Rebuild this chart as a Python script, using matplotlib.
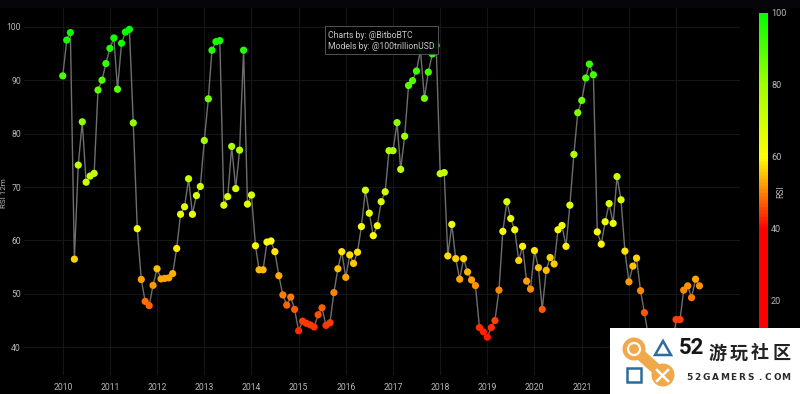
import numpy as np
import pandas as pd
import matplotlib
matplotlib.use("Agg")
import matplotlib.pyplot as plt
from matplotlib.colors import LinearSegmentedColormap, Normalize
from matplotlib.patches import Rectangle, Circle, Polygon

W, H = 800, 394
plt.rcParams['font.family'] = ['Roboto', 'Noto Sans CJK SC', 'DejaVu Sans']

rsi_2010 = [90.8, 97.5, 98.9, 56.5, 74.1, 82.2, 70.9, 72.05, 72.55, 88.15, 90.0, 93.1]
rsi_2011 = [95.95, 97.9, 88.3, 96.9, 99.0, 99.5, 82.0, 62.2, 52.7, 48.6, 47.8, 51.6]
rsi_2012 = [54.7, 52.8, 52.9, 53.0, 53.8, 58.5, 64.9, 66.3, 71.55, 64.9, 68.4, 70.1]
rsi_2013 = [78.7, 86.5, 95.6, 97.2, 97.4, 66.6, 68.2, 77.6, 69.7, 76.9, 95.6, 66.8]
rsi_2014 = [68.5, 59.0, 54.5, 54.5, 59.7, 59.9, 57.9, 53.4, 49.8, 47.9, 49.4, 47.1]
rsi_2015 = [43.1, 44.9, 44.5, 44.2, 43.8, 46.1, 47.4, 44.1, 44.6, 50.25, 54.7, 57.9]
rsi_2016 = [53.1, 57.3, 55.7, 57.8, 62.6, 69.4, 65.1, 60.9, 62.75, 67.25, 69.1, 76.8]
rsi_2017 = [76.8, 82.05, 73.3, 79.5, 89.0, 89.9, 91.7, 95.6, 86.6, 91.5, 94.9, 96.5]
rsi_2018 = [72.5, 72.7, 57.1, 63.0, 56.6, 52.75, 56.6, 54.1, 52.6, 51.55, 43.7, 42.9]
rsi_2019 = [41.9, 43.7, 45.0, 50.7, 61.7, 67.25, 64.1, 62.0, 56.25, 58.9, 52.4, 50.9]
rsi_2020 = [58.1, 54.9, 47.1, 54.4, 56.8, 55.6, 62.0, 62.8, 58.9, 66.6, 76.1, 83.9]
rsi_2021 = [86.2, 90.4, 93.0, 91.0, 61.6, 59.3, 63.5, 66.9, 63.2, 71.95, 67.6, 58.0]
rsi_2022 = [52.25, 55.2, 56.7, 50.6, 46.5, 42.0, 39.0, 38.0, 38.5, 38.0, 37.5, 39.0]
rsi_2023 = [45.2, 45.2, 50.7, 51.5, 49.3, 52.75, 51.5]

rsi = np.array(rsi_2010 + rsi_2011 + rsi_2012 + rsi_2013 + rsi_2014 + rsi_2015 + rsi_2016
               + rsi_2017 + rsi_2018 + rsi_2019 + rsi_2020 + rsi_2021 + rsi_2022 + rsi_2023)
dates = pd.date_range("2010-01-01", periods=len(rsi), freq="MS")
years = list(range(2010, 2024))
y_ticks = [40, 50, 60, 70, 80, 90, 100]
cbar_ticks = [20, 40, 60, 80, 100]

cmap = LinearSegmentedColormap.from_list(
    "rsi", [(0, "#ff0000"), (0.40, "#ff0000"), (0.60, "#ffff00"), (0.80, "#a0ff00"), (1.0, "#00ff00")])
norm = Normalize(0, 100)

BG = "#000000"
TXT = "#b8b8b8"
GRID = "#151515"


def px_axes(l, t, r, b, **kw):
    return fig.add_axes([l / W, 1 - b / H, (r - l) / W, (b - t) / H], **kw)


fig = plt.figure(figsize=(W / 100, H / 100), dpi=100, facecolor="#05050a")
ax = px_axes(24, 8, 740, 375, facecolor=BG)
fig.add_artist(Rectangle((0, 0), 1, 1 - 8 / H, transform=fig.transFigure, fc=BG, ec="none", zorder=-5))

ax.plot(dates, rsi, color="#6e6e6e", lw=1.0, zorder=2)
sc = ax.scatter(dates, rsi, c=rsi, cmap=cmap, norm=norm, s=27, zorder=3, linewidths=0)

ax.set_xlim(pd.Timestamp("2009-03-07"), pd.Timestamp("2024-05-10"))
ax.set_ylim(34.82, 103.5)
ax.set_xticks([pd.Timestamp(f"{y}-01-01") for y in years])
ax.set_xticklabels([str(y) for y in years])
ax.set_yticks(y_ticks)
ax.grid(True, color=GRID, lw=0.8, zorder=0)
ax.set_axisbelow(True)
ax.tick_params(axis="both", length=0, labelsize=6.2, labelcolor=TXT)
ax.tick_params(axis="x", pad=5.5)
ax.tick_params(axis="y", pad=2.2)
for s in ax.spines.values():
    s.set_visible(False)
fig.text(4.5 / W, 1 - 193 / H, "RSI 12m", rotation=90, ha="center", va="center", fontsize=5.8, color=TXT)

# colour bar
cax = px_axes(759, 13, 768, 373)
cb = fig.colorbar(sc, cax=cax)
cb.outline.set_visible(False)
cb.set_ticks(cbar_ticks)
cb.ax.tick_params(length=0, labelsize=6.6, labelcolor=TXT, pad=2.2)
fig.text(781 / W, 1 - 192 / H, "RSI", rotation=90, ha="center", va="center", fontsize=6.2, color=TXT)

# credit box
ov = px_axes(0, 0, W, H, facecolor="none", zorder=10)
ov.set_xlim(0, W)
ov.set_ylim(H, 0)
ov.axis("off")
ov.add_patch(Rectangle((325, 26), 113, 28, fc="#000000", ec="#5a5a5a", lw=0.7, alpha=0.93))
ov.text(328.5, 35, "Charts by: @BitboBTC", fontsize=6.2, color="#c8c8c8", va="center")
ov.text(328.5, 46, "Models by: @100trillionUSD", fontsize=6.2, color="#c8c8c8", va="center")

# watermark
ORANGE = "#f0a94a"
BLUE = "#2f6a9c"
ov.add_patch(Rectangle((610, 328), 190, 66, fc="white", ec="none", zorder=1))
ov.add_patch(Circle((634, 349), 11.5, fc=ORANGE, ec="none", zorder=2))
ov.add_patch(Circle((663, 375), 11.5, fc=ORANGE, ec="none", zorder=2))
ov.plot([634, 663], [349, 375], color=ORANGE, lw=8, solid_capstyle="round", zorder=2)
ov.add_patch(Circle((634, 349), 6, fc=ORANGE, ec="white", lw=1.6, zorder=3))
ov.add_patch(Polygon([(663, 341), (671, 355), (655, 355)], fc="none", ec=BLUE, lw=1.8, zorder=3))
ov.add_patch(Rectangle((627, 368), 14, 14, fc="none", ec=BLUE, lw=1.8, zorder=3))
ov.plot([657, 668], [370, 381], color="white", lw=1.8, zorder=3)
ov.plot([668, 657], [370, 381], color="white", lw=1.8, zorder=3)
ov.text(679, 348, "52", fontsize=16, fontweight="bold", color="#161616", va="center", ha="left",
        family="Roboto", zorder=4)
for i, ch in enumerate("游玩社区"):
    ov.text(718 + 21 * i, 353, ch, fontsize=13, fontweight="bold", color="#222222", va="center", ha="center",
            family="Noto Sans CJK SC", zorder=4)
for i, ch in enumerate("52GAMERS.COM"):
    ov.text(689 + 8.8 * i, 377, ch, fontsize=6.4, fontweight="bold", color="#2a2a2a", va="center", ha="center",
            family="DejaVu Sans", zorder=4)

fig.savefig("out.png", dpi=100, facecolor=fig.get_facecolor())
